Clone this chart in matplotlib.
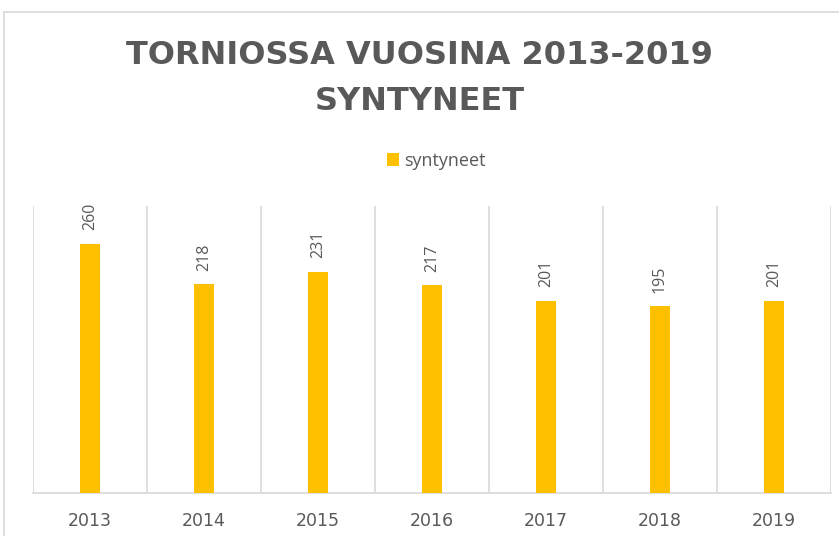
import matplotlib
matplotlib.use("Agg")
import matplotlib.pyplot as plt
from matplotlib.patches import Rectangle

years = ["2013", "2014", "2015", "2016", "2017", "2018", "2019"]
syntyneet = [260, 218, 231, 217, 201, 195, 201]
series_name = "syntyneet"

bar_color = "#FFC000"
text_color = "#595959"
grid_color = "#D9D9D9"

plt.rcParams['font.family'] = ['Open Sans', 'DejaVu Sans']

fig = plt.figure(figsize=(8.39, 5.36), dpi=100)
W, H = 839, 536

# chart border (extends past the right and bottom edges, as in the reference crop)
fig.patches.append(Rectangle((4 / W, -0.05), 1.1, 1.05 - 12 / H, transform=fig.transFigure,
                             fill=False, edgecolor=grid_color, linewidth=1.2))

ax = fig.add_axes([33 / W, (H - 493) / H, 798 / W, (493 - 206) / H])
x = list(range(len(years)))
bars = ax.bar(x, syntyneet, width=0.18, color=bar_color, label=series_name, zorder=3)
ax.set_xlim(-0.5, len(years) - 0.5)
ax.set_ylim(0, 300)

for b in [i - 0.5 for i in range(len(years) + 1)]:
    ax.axvline(b, color=grid_color, linewidth=1.2, zorder=1)

for s in ["top", "right", "left"]:
    ax.spines[s].set_visible(False)
ax.spines["bottom"].set_color(grid_color)
ax.spines["bottom"].set_linewidth(1.2)
ax.set_yticks([])
ax.set_xticks(x)
ax.set_xticklabels(years, fontsize=12.5, color=text_color, family="DejaVu Sans")
ax.tick_params(axis="x", length=0, pad=14)

for xi, v in zip(x, syntyneet):
    ax.annotate(str(v), (xi, v), xytext=(0, 10), textcoords="offset points",
                rotation=90, ha="center", va="bottom", fontsize=11.5, color=text_color)

fig.text(0.5, 1 - 55 / H, "TORNIOSSA VUOSINA 2013-2019", ha="center", va="center",
         fontsize=23, fontweight="bold", color=text_color, family="DejaVu Sans")
fig.text(0.5, 1 - 101 / H, "SYNTYNEET", ha="center", va="center",
         fontsize=23, fontweight="bold", color=text_color, family="DejaVu Sans")

fig.legend(handles=[bars], labels=[series_name], loc="center",
           bbox_to_anchor=(0.52, 1 - 161 / H), frameon=False, fontsize=13,
           handlelength=0.7, handleheight=0.7, handletextpad=0.3, labelcolor=text_color)

fig.savefig("out.png", dpi=100)
